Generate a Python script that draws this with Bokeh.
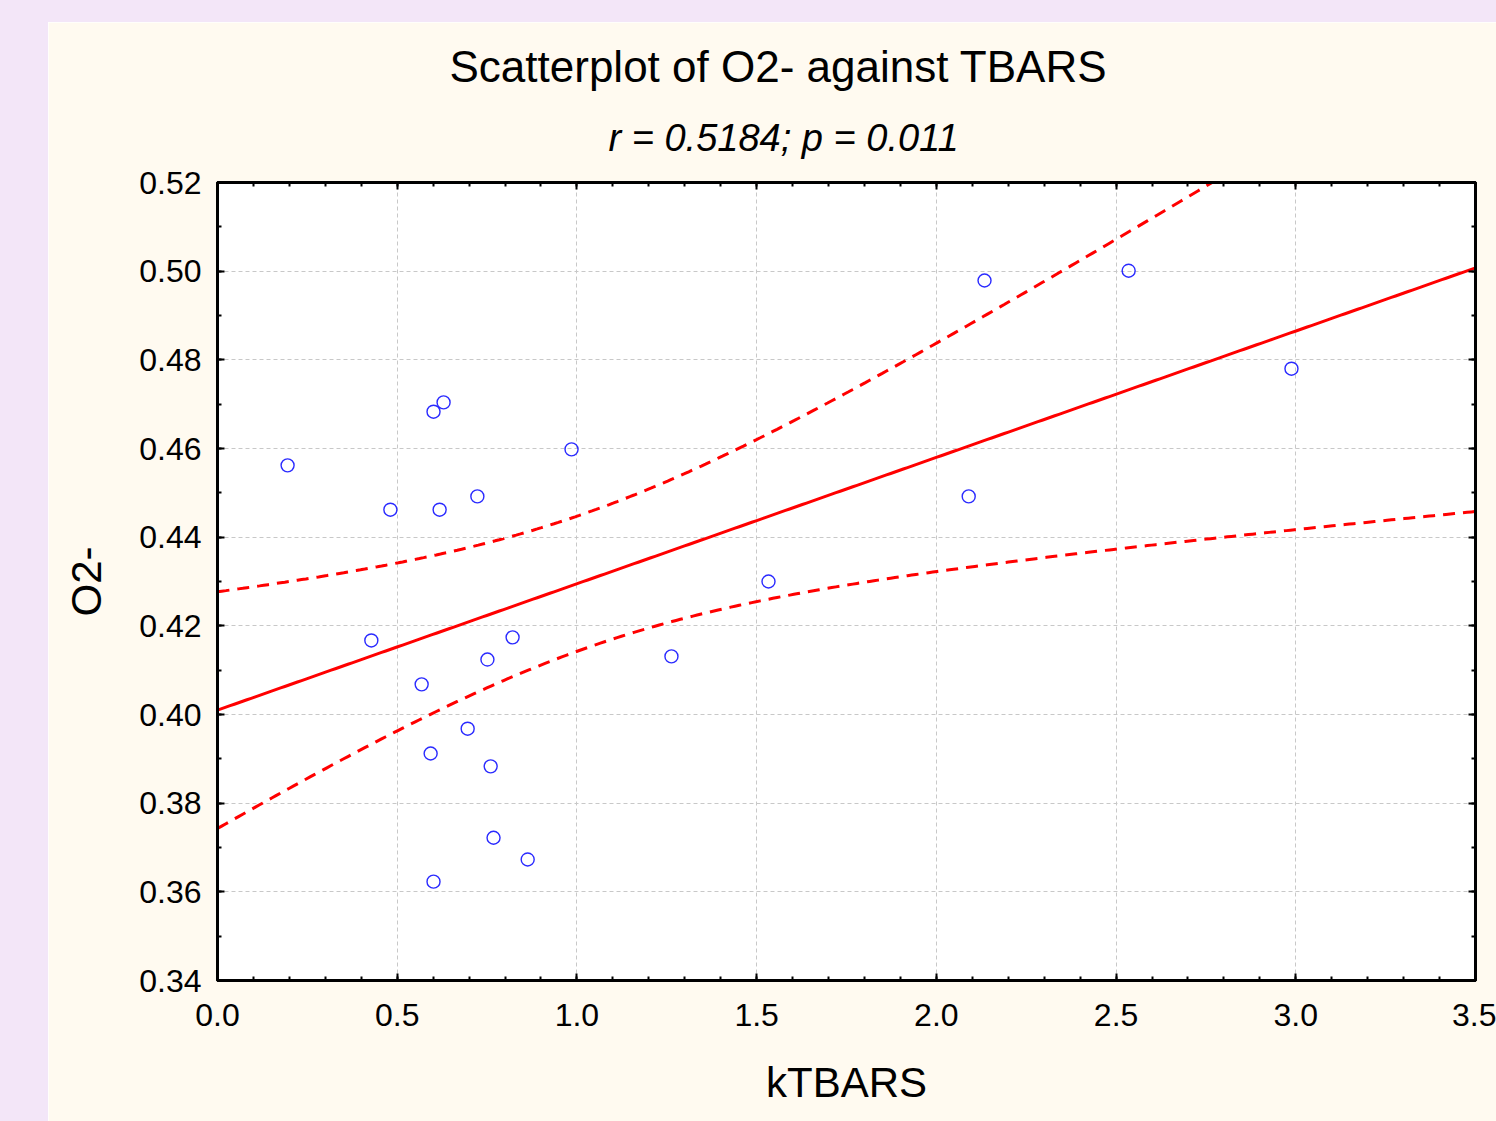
import numpy as np
from bokeh.plotting import figure
from bokeh.models import (Range1d, LinearAxis, Title, Spacer, FixedTicker,
                          NumeralTickFormatter, ColumnDataSource)
from bokeh.layouts import column, row
from bokeh.embed import file_html
from bokeh.resources import INLINE

# ---------------- data ----------------
ktbars = [0.195, 0.481, 0.428, 0.601, 0.629, 0.618, 0.723, 0.985, 0.568, 0.593,
          0.601, 0.696, 0.751, 0.760, 0.768, 0.821, 0.863, 1.263, 1.533, 2.090,
          2.134, 2.535, 2.988]
o2 = [0.4562, 0.4462, 0.4167, 0.4683, 0.4704, 0.4462, 0.4492, 0.4598, 0.4068, 0.3912,
      0.3623, 0.3968, 0.4124, 0.3883, 0.3722, 0.4174, 0.3673, 0.4131, 0.4300, 0.4492,
      0.4979, 0.5001, 0.4780]
x_ticks = [0.0, 0.5, 1.0, 1.5, 2.0, 2.5, 3.0, 3.5]
y_ticks = [0.34, 0.36, 0.38, 0.40, 0.42, 0.44, 0.46, 0.48, 0.50, 0.52]
x_minor = [i / 10 for i in range(0, 36)]
y_minor = [0.34 + i / 100 for i in range(0, 19)]
title_text = "Scatterplot of O2- against TBARS"
subtitle_text = "r = 0.5184; p = 0.011"
x_label = "kTBARS"
y_label = "O2-"
T_CRIT = 2.0796  # two-sided 95 %, df = 21

# ---------------- regression + 95% confidence band ----------------
x = np.array(ktbars)
y = np.array(o2)
n = len(x)
b, a = np.polyfit(x, y, 1)
resid = y - (a + b * x)
s = np.sqrt(np.sum(resid ** 2) / (n - 2))
xbar = x.mean()
sxx = np.sum((x - xbar) ** 2)
xs = np.linspace(x_ticks[0], x_ticks[-1], 300)
fit = a + b * xs
half = T_CRIT * s * np.sqrt(1.0 / n + (xs - xbar) ** 2 / sxx)
band = ColumnDataSource(dict(x=xs, fit=fit, up=fit + half, lo=fit - half))

# ---------------- figure ----------------
LAV = "#f3e6f8"
CREAM = "#fffaf0"
FONT = "Liberation Sans"

p = figure(width=1448, height=1099,
           x_range=Range1d(x_ticks[0], x_ticks[-1]),
           y_range=Range1d(y_ticks[0], y_ticks[-1]),
           output_backend="svg", toolbar_location=None,
           background_fill_color="white", border_fill_color=CREAM,
           min_border_left=169, min_border_right=21,
           min_border_top=160, min_border_bottom=141,
           outline_line_color="black", outline_line_width=3)

xt = FixedTicker(ticks=x_ticks, minor_ticks=x_minor)
yt = FixedTicker(ticks=y_ticks, minor_ticks=y_minor)

xa = p.xaxis[0]
ya = p.yaxis[0]
xa.ticker = xt
ya.ticker = yt
xa.formatter = NumeralTickFormatter(format="0.0")
ya.formatter = NumeralTickFormatter(format="0.00")

# tick-only axes on the top and right edges (labels not drawn)
xa_top = LinearAxis(ticker=xt, major_label_text_color=None,
                    major_label_text_font_size="1px", major_label_standoff=0)
ya_right = LinearAxis(ticker=yt, major_label_text_color=None,
                      major_label_text_font_size="1px", major_label_standoff=0)
p.add_layout(xa_top, "above")
p.add_layout(ya_right, "right")

for ax in (xa, ya, xa_top, ya_right):
    ax.axis_line_color = "black"
    ax.axis_line_width = 3
    ax.major_tick_in = 7
    ax.major_tick_out = 0
    ax.minor_tick_in = 4
    ax.minor_tick_out = 0
    ax.major_tick_line_width = 2
    ax.minor_tick_line_width = 2
    ax.major_tick_line_color = "black"
    ax.minor_tick_line_color = "black"

for ax in (xa, ya):
    ax.major_label_text_font = FONT
    ax.major_label_text_font_size = "32px"
    ax.major_label_text_color = "black"
    ax.axis_label_text_font = FONT
    ax.axis_label_text_font_size = "42px"
    ax.axis_label_text_font_style = "normal"
    ax.axis_label_text_color = "black"

xa.axis_label = x_label
ya.axis_label = y_label
xa.major_label_standoff = 23
xa.axis_label_standoff = 30
ya.major_label_standoff = 16
ya.axis_label_standoff = 26

for g in (p.xgrid[0], p.ygrid[0]):
    g.grid_line_color = "#c8c8c8"
    g.grid_line_dash = "4 3"
    g.grid_line_width = 1

# titles (first added = closest to the frame)
sub = Title(text=subtitle_text, align="left", offset=391, text_font=FONT,
            text_font_style="italic", text_font_size="38px", text_color="black",
            standoff=48)
p.add_layout(sub, "above")
main = Title(text=title_text, align="left", offset=232, text_font=FONT,
             text_font_style="normal", text_font_size="44px", text_color="black",
             standoff=0)
p.add_layout(main, "above")

# ---------------- glyphs ----------------
p.line("x", "fit", source=band, line_color="#ff0000", line_width=3)
p.line("x", "up", source=band, line_color="#ff0000", line_width=3, line_dash="12 8")
p.line("x", "lo", source=band, line_color="#ff0000", line_width=3, line_dash="12 8")
p.scatter(ktbars, o2, marker="circle", size=13, fill_color=None,
          line_color="#2a2aff", line_width=1.4)

# ---------------- page layout ----------------
top_strip = Spacer(width=1496, height=22, styles={"background-color": LAV})
left_strip = Spacer(width=48, height=1099, styles={"background-color": LAV})
page = column(top_strip, row(left_strip, p))

open("out.html", "w").write(file_html(page, INLINE))
